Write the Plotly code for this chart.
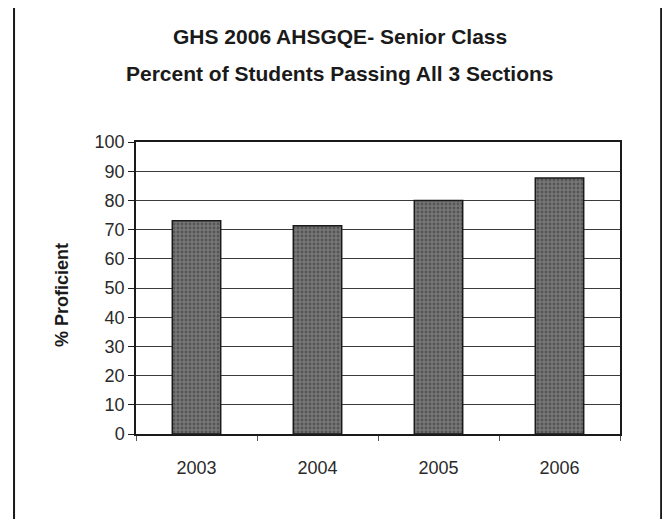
import plotly.graph_objects as go

years = ["2003", "2004", "2005", "2006"]
pct_proficient = [73, 71.3, 80, 87.7]
y_ticks = [0, 10, 20, 30, 40, 50, 60, 70, 80, 90, 100]
title_lines = ["GHS 2006 AHSGQE- Senior Class", "Percent of Students Passing All 3 Sections"]
y_title = "% Proficient"

fig = go.Figure()
fig.add_trace(go.Bar(
    x=years, y=pct_proficient, width=0.4,
    marker=dict(color="#666666", line=dict(color="#1a1a1a", width=1.5),
                pattern=dict(shape=".", fgcolor="#333333", bgcolor="#777777", size=4, solidity=0.4)),
    showlegend=False,
))

font = "Liberation Sans, Arial, sans-serif"
fig.update_layout(
    width=670, height=519,
    margin=dict(l=128, r=58, t=134, b=93, autoexpand=False),
    paper_bgcolor="white", plot_bgcolor="white",
    font=dict(family=font, color="#2a2a2a", size=18),
    xaxis=dict(showline=True, linecolor="#1a1a1a", linewidth=1.5, mirror=True, automargin=False,
               ticks="outside", tickson="boundaries", ticklen=5, tickcolor="#555",
               ticklabelstandoff=17, showgrid=False),
    yaxis=dict(range=[0, 100], tickvals=y_ticks, showline=True, linecolor="#1a1a1a", linewidth=1.5,
               mirror=True, ticks="outside", ticklen=6, tickcolor="#1a1a1a", automargin=False,
               showgrid=True, gridcolor="#3a3a3a", gridwidth=1, zeroline=False),
    shapes=[dict(type="rect", xref="paper", yref="paper", x0=-0.252, x1=1.085, y0=-0.4, y1=1.469,
                 line=dict(color="#1a1a1a", width=2), fillcolor="rgba(0,0,0,0)", layer="below")],
    annotations=[
        dict(text="<b>%s</b>" % title_lines[0], xref="paper", yref="paper", x=0.421, y=1.36,
             showarrow=False, xanchor="center", yanchor="middle", font=dict(size=21, color="#1a1a1a")),
        dict(text="<b>%s</b>" % title_lines[1], xref="paper", yref="paper", x=0.421, y=1.233,
             showarrow=False, xanchor="center", yanchor="middle", font=dict(size=21, color="#1a1a1a")),
        dict(text="<b>%s</b>" % y_title, xref="paper", yref="paper", x=-0.153, y=0.476, textangle=-90,
             showarrow=False, xanchor="center", yanchor="middle", font=dict(size=18, color="#1a1a1a")),
    ],
)
fig.write_html("out.html")
